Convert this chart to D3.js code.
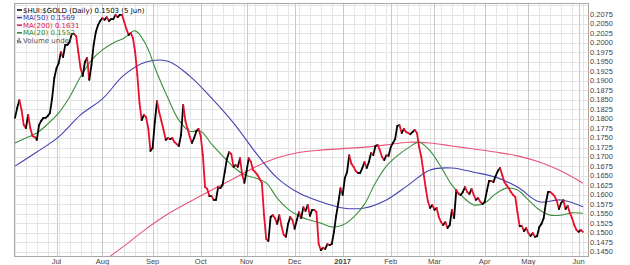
<!DOCTYPE html>
<html>
<head>
<meta charset="utf-8">
<script src="https://cdn.jsdelivr.net/npm/d3@7"></script>
<style>
  body { margin: 0; background: #fff; }
</style>
</head>
<body>
<div id="chart"></div>
<script>
// daily closes of $HUI:$GOLD, one per trading day (6 Jun 2016 .. 5 Jun 2017)
const priceValues = [
  0.1803, 0.1829, 0.1850, 0.1824, 0.1784, 0.1776, 0.1811, 0.1776, 0.1755, 0.1753,
  0.1745, 0.1784, 0.1795, 0.1803, 0.1803, 0.1808, 0.1816, 0.1855, 0.1908, 0.1934,
  0.1947, 0.1976, 0.1963, 0.1995, 0.1995, 0.2003, 0.2024, 0.2024, 0.2018, 0.1976,
  0.1934, 0.1913, 0.1950, 0.1961, 0.1903, 0.1942, 0.1995, 0.2029, 0.2047, 0.2058,
  0.2066, 0.2061, 0.2068, 0.2058, 0.2063, 0.2063, 0.2074, 0.2068, 0.2074, 0.2074,
  0.2055, 0.2037, 0.2021, 0.2026, 0.2013, 0.1976, 0.1916, 0.1842, 0.1797, 0.1811,
  0.1805, 0.1776, 0.1716, 0.1724, 0.1792, 0.1847, 0.1818, 0.1795, 0.1771, 0.1745,
  0.1750, 0.1747, 0.1750, 0.1739, 0.1734, 0.1729, 0.1758, 0.1837, 0.1795, 0.1774,
  0.1753, 0.1737, 0.1750, 0.1768, 0.1774, 0.1755, 0.1705, 0.1621, 0.1616, 0.1597,
  0.1597, 0.1587, 0.1587, 0.1621, 0.1618, 0.1626, 0.1660, 0.1695, 0.1713, 0.1708,
  0.1674, 0.1679, 0.1674, 0.1697, 0.1653, 0.1632, 0.1663, 0.1697, 0.1687, 0.1666,
  0.1660, 0.1653, 0.1642, 0.1632, 0.1547, 0.1484, 0.1479, 0.1542, 0.1547, 0.1539,
  0.1524, 0.1547, 0.1518, 0.1495, 0.1490, 0.1524, 0.1542, 0.1534, 0.1511, 0.1534,
  0.1555, 0.1539, 0.1568, 0.1558, 0.1574, 0.1545, 0.1561, 0.1561, 0.1555, 0.1471,
  0.1455, 0.1461, 0.1458, 0.1471, 0.1468, 0.1471, 0.1503, 0.1545, 0.1579, 0.1618,
  0.1600, 0.1645, 0.1660, 0.1705, 0.1682, 0.1674, 0.1663, 0.1658, 0.1658, 0.1671,
  0.1687, 0.1671, 0.1687, 0.1711, 0.1705, 0.1729, 0.1732, 0.1718, 0.1700, 0.1692,
  0.1705, 0.1703, 0.1726, 0.1737, 0.1747, 0.1782, 0.1784, 0.1763, 0.1774, 0.1766,
  0.1763, 0.1760, 0.1766, 0.1771, 0.1763, 0.1726, 0.1700, 0.1658, 0.1618, 0.1584,
  0.1566, 0.1574, 0.1561, 0.1566, 0.1542, 0.1529, 0.1521, 0.1529, 0.1513, 0.1521,
  0.1561, 0.1539, 0.1613, 0.1603, 0.1600, 0.1608, 0.1621, 0.1608, 0.1603, 0.1616,
  0.1600, 0.1587, 0.1592, 0.1582, 0.1576, 0.1582, 0.1611, 0.1637, 0.1637, 0.1634,
  0.1650, 0.1663, 0.1671, 0.1653, 0.1634, 0.1626, 0.1618, 0.1608, 0.1600, 0.1595,
  0.1555, 0.1518, 0.1518, 0.1505, 0.1513, 0.1500, 0.1492, 0.1500, 0.1490, 0.1492,
  0.1516, 0.1524, 0.1539, 0.1579, 0.1608, 0.1608, 0.1603, 0.1597, 0.1584, 0.1563,
  0.1579, 0.1587, 0.1563, 0.1571, 0.1553, 0.1539, 0.1521, 0.1508, 0.1503, 0.1508,
  0.1503
];

// moving averages, read every 5th / 10th trading day
const ma20Step = 5;
const ma20Values = [
  0.1737, 0.1750, 0.1763, 0.1787, 0.1816, 0.1858, 0.1911, 0.1955, 0.1982, 0.2000,
  0.2013, 0.2032, 0.1995, 0.1921, 0.1855, 0.1797, 0.1768, 0.1768, 0.1734, 0.1703,
  0.1674, 0.1653, 0.1645, 0.1632, 0.1592, 0.1563, 0.1545, 0.1534, 0.1526, 0.1516,
  0.1521, 0.1542, 0.1576, 0.1632, 0.1676, 0.1703, 0.1724, 0.1739, 0.1716, 0.1674,
  0.1626, 0.1595, 0.1574, 0.1579, 0.1603, 0.1618, 0.1613, 0.1587, 0.1561, 0.1547,
  0.1547, 0.1553, 0.1552
];

const ma50Step = 10;
const ma50Values = [
  0.1676, 0.1713, 0.1753, 0.1811, 0.1853, 0.1916, 0.1950, 0.1952, 0.1913, 0.1855,
  0.1790, 0.1713, 0.1645, 0.1605, 0.1582, 0.1566, 0.1566, 0.1587, 0.1626, 0.1666,
  0.1671, 0.1660, 0.1647, 0.1621, 0.1582, 0.1587, 0.1569
];

const ma200Start = 40, ma200Step = 10;
const ma200Values = [
  0.1424, 0.1466, 0.1511, 0.1550, 0.1582, 0.1613, 0.1643, 0.1674, 0.1698, 0.1712,
  0.1718, 0.1722, 0.1726, 0.1732, 0.1739, 0.1737, 0.1729, 0.1721, 0.1713, 0.1703,
  0.1687, 0.1663, 0.1631
];

const yTickValues = [
  0.1450, 0.1475, 0.1500, 0.1525, 0.1550, 0.1575, 0.1600, 0.1625, 0.1650, 0.1675,
  0.1700, 0.1725, 0.1750, 0.1775, 0.1800, 0.1825, 0.1850, 0.1875, 0.1900, 0.1925,
  0.1950, 0.1975, 0.2000, 0.2025, 0.2050, 0.2075
];

const legendRows = [
  {text: "$HUI:$GOLD (Daily) 0.1503 (5 Jun)", color: "#000"},
  {text: "MA(50) 0.1569", color: "#3434a8"},
  {text: "MA(200) 0.1631", color: "#e0204a"},
  {text: "MA(20) 0.1552", color: "#2f8a2f"},
  {text: "Volume undef", color: "#555", icon: true}
];

const width = 630, height = 265;
const plot = {left: 14, right: 588, top: 3, bottom: 256};

// trading-day calendar (weekdays)
const tradingDays = [];
for (let d = new Date(2016, 5, 6); d <= new Date(2017, 5, 5); d = d3.timeDay.offset(d, 1)) {
  if (d.getDay() !== 0 && d.getDay() !== 6) tradingDays.push(d);
}

const x = d3.scaleLinear().domain([0, tradingDays.length - 1]).range([15, 583]);
const y = d3.scaleLinear().domain([0.1450, 0.2100]).range([252, 5]);

const monthStarts = tradingDays.map((d, i) => i)
  .filter(i => i > 0 && tradingDays[i].getMonth() !== tradingDays[i - 1].getMonth());
const mondays = tradingDays.map((d, i) => i).filter(i => tradingDays[i].getDay() === 1);

const svg = d3.select("#chart").append("svg")
  .attr("width", width)
  .attr("height", height)
  .style("font-family", "'Liberation Sans', Arial, sans-serif");

svg.append("defs").append("clipPath").attr("id", "clip")
  .append("rect")
  .attr("x", plot.left).attr("y", plot.top)
  .attr("width", plot.right - plot.left).attr("height", plot.bottom - plot.top);

// grid
const grid = svg.append("g").attr("shape-rendering", "crispEdges");
grid.selectAll(".hg").data(yTickValues.concat([0.2100])).join("line")
  .attr("x1", plot.left).attr("x2", plot.right)
  .attr("y1", d => Math.round(y(d)) + 0.5).attr("y2", d => Math.round(y(d)) + 0.5)
  .attr("stroke", "#e4e4e4");
grid.selectAll(".wg").data(mondays).join("line")
  .attr("x1", d => Math.round(x(d)) + 0.5).attr("x2", d => Math.round(x(d)) + 0.5)
  .attr("y1", plot.top).attr("y2", plot.bottom)
  .attr("stroke", "#e6e6e6");
grid.selectAll(".mg").data(monthStarts).join("line")
  .attr("x1", d => Math.round(x(d)) + 0.5).attr("x2", d => Math.round(x(d)) + 0.5)
  .attr("y1", plot.top).attr("y2", plot.bottom)
  .attr("stroke", "#c9c9c9");

grid.append("rect")
  .attr("x", plot.left + 0.5).attr("y", plot.top + 0.5)
  .attr("width", plot.right - plot.left).attr("height", plot.bottom - plot.top)
  .attr("fill", "none").attr("stroke", "#a8a8a8");

// right axis
const yAxis = svg.append("g")
  .attr("transform", `translate(${plot.right},1.5)`)
  .call(d3.axisRight(y).tickValues(yTickValues).tickFormat(d3.format(".4f")).tickSize(0).tickPadding(2));
yAxis.select(".domain").remove();
yAxis.selectAll("text")
  .attr("dy", null)
  .attr("font-family", "'Liberation Sans', Arial, sans-serif")
  .attr("font-size", "7.5px")
  .attr("fill", "#444");

// month labels
const fmtMonth = d3.timeFormat("%b"), fmtYear = d3.timeFormat("%Y");
svg.append("g").selectAll("text").data(monthStarts).join("text")
  .attr("x", d => x(d))
  .attr("y", 264)
  .attr("text-anchor", "middle")
  .attr("font-size", "7.5px")
  .attr("fill", "#444")
  .attr("font-weight", d => tradingDays[d].getMonth() === 0 ? "bold" : null)
  .text(d => tradingDays[d].getMonth() === 0 ? fmtYear(tradingDays[d]) : fmtMonth(tradingDays[d]));

// lines
const lines = svg.append("g").attr("clip-path", "url(#clip)");
const maLine = (step, start) => d3.line()
  .x((d, i) => x(start + i * step))
  .y(d => y(d))
  .curve(d3.curveCatmullRom.alpha(0.5));

lines.append("path").datum(ma200Values)
  .attr("d", maLine(ma200Step, ma200Start))
  .attr("fill", "none").attr("stroke", "#e8557a").attr("stroke-width", 1.1);
lines.append("path").datum(ma50Values)
  .attr("d", maLine(ma50Step, 0))
  .attr("fill", "none").attr("stroke", "#4444b0").attr("stroke-width", 1.1);
lines.append("path").datum(ma20Values)
  .attr("d", maLine(ma20Step, 0))
  .attr("fill", "none").attr("stroke", "#3c8f3c").attr("stroke-width", 1.1);

const segments = d3.pairs(priceValues.map((v, i) => [i, v]));
lines.selectAll(".seg").data(segments).join("line")
  .attr("x1", d => x(d[0][0])).attr("y1", d => y(d[0][1]))
  .attr("x2", d => x(d[1][0])).attr("y2", d => y(d[1][1]))
  .attr("stroke", d => d[1][1] >= d[0][1] ? "#000" : "#e8102c")
  .attr("stroke-width", 1.8)
  .attr("stroke-linecap", "round");

// legend
const legend = svg.append("g")
  .style("font-family", "'DejaVu Sans', Verdana, sans-serif")
  .style("font-size", "7px");
legendRows.forEach((r, i) => {
  const yy = 12.5 + i * 7.6;
  legend.append("text")
    .attr("x", 23).attr("y", yy)
    .attr("fill", r.color)
    .text(r.text);
  if (r.icon) {
    [[17, 3], [18.5, 5], [20, 2]].forEach(b => legend.append("rect")
      .attr("x", b[0]).attr("y", yy - b[1]).attr("width", 1.2).attr("height", b[1])
      .attr("fill", "#666"));
  } else {
    legend.append("line")
      .attr("x1", 17).attr("x2", 22)
      .attr("y1", yy - 2.5).attr("y2", yy - 2.5)
      .attr("stroke", r.color).attr("stroke-width", 1.5);
  }
});
</script>
</body>
</html>
